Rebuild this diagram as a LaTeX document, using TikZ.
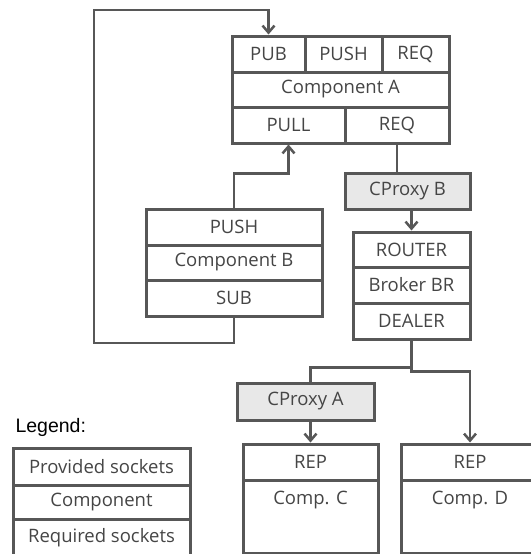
\documentclass[tikz,border=0pt]{standalone}
\usepackage{fontspec}
\usepackage{tikz}
\usetikzlibrary{arrows.meta}
\newfontfamily\boxfont{Open Sans}
\newfontfamily\legfont{Liberation Sans}
\definecolor{linegray}{HTML}{575757}
\definecolor{textgray}{HTML}{454545}
\definecolor{proxyfill}{HTML}{E8E8E8}

\begin{document}
\begin{tikzpicture}[x=1pt,y=-1pt,
    celltext/.style={text=textgray,font=\boxfont\fontsize{18.5}{22}\selectfont},
    box/.style={draw=linegray,line width=3pt,inner sep=0pt,celltext},
    proxy/.style={box,fill=proxyfill},
    conn/.style={draw=linegray,line width=2.5pt},
    arr/.style={conn,-{Straight Barb[length=7pt,width=12pt,line width=2.5pt]}}]
    \useasboundingbox (0,0) rectangle (530,554);

    % component A
    \node[box,minimum width=73pt,minimum height=36pt] (pubA) at (268.5,54) {PUB};
    \node[box,minimum width=77pt,minimum height=36pt] (pushA) at (343.5,54) {PUSH};
    \node[box,minimum width=67pt,minimum height=36pt] (reqA) at (415.5,54) {REQ};
    \node[box,minimum width=217pt,minimum height=35pt] (compA) at (340.5,89.5) {Component A};
    \node[box,minimum width=113pt,minimum height=36pt] (pullA) at (288.5,125) {PULL};
    \node[box,minimum width=104pt,minimum height=36pt] (reqA2) at (397,125) {REQ};

    % component B
    \node[box,minimum width=176pt,minimum height=36pt] (pushB) at (234,227) {PUSH};
    \node[box,minimum width=176pt,minimum height=35pt] (compB) at (234,262.5) {Component B};
    \node[box,minimum width=176pt,minimum height=36pt] (subB) at (234,298) {SUB};

    % proxies
    \node[proxy,minimum width=125pt,minimum height=36pt] (cproxyB) at (407.5,191) {CProxy B};
    \node[proxy,minimum width=137pt,minimum height=37pt] (cproxyA) at (305.5,401.5) {CProxy A};

    % broker
    \node[box,minimum width=117pt,minimum height=35pt] (router) at (411.5,249.5) {ROUTER};
    \node[box,minimum width=117pt,minimum height=36pt] (broker) at (411.5,285) {Broker BR};
    \node[box,minimum width=117pt,minimum height=36pt] (dealer) at (411.5,321) {DEALER};

    % components C and D
    \node[box,minimum width=135pt,minimum height=36pt] (repC) at (310.5,462) {REP};
    \node[box,minimum width=135pt,minimum height=73pt,
        label={[celltext,anchor=north,yshift=-9pt]north:Comp. C}] (compC) at (310.5,516.5) {};
    \node[box,minimum width=138pt,minimum height=36pt] (repD) at (470,462) {REP};
    \node[box,minimum width=138pt,minimum height=73pt,
        label={[celltext,anchor=north,yshift=-9pt]north:Comp. D}] (compD) at (470,516.5) {};

    % legend
    \node[anchor=base west,font=\legfont\fontsize{19.5}{23}\selectfont] (legend) at (12,432) {Legend:};
    \node[box,minimum width=177pt,minimum height=37pt] (provided) at (101.5,466.5) {Provided sockets};
    \node[box,minimum width=177pt,minimum height=34pt] (component) at (101.5,502) {Component};
    \node[box,minimum width=177pt,minimum height=37pt] (required) at (101.5,537.5) {Required sockets};

    % connectors
    \coordinate (loopL) at (94,343);
    \coordinate (loopT) at (94,10);
    \draw[arr] (subB.south) |- (loopL) -- (loopT) -| (pubA.north);
    \draw[arr] (pushB.north) -- ++(0,-34) -| (pullA.south);
    \draw[conn] (reqA2.south) -- (reqA2.south |- cproxyB.north);
    \draw[arr] (cproxyB.south -| router.north) -- (router.north);
    \draw[conn] (dealer.south) -- ++(0,27) -| (repC.north |- cproxyA.north);
    \draw[arr] (dealer.south) -- ++(0,31) -| (repD.north);
    \draw[arr] (repC.north |- cproxyA.south) -- (repC.north);
\end{tikzpicture}
\end{document}
